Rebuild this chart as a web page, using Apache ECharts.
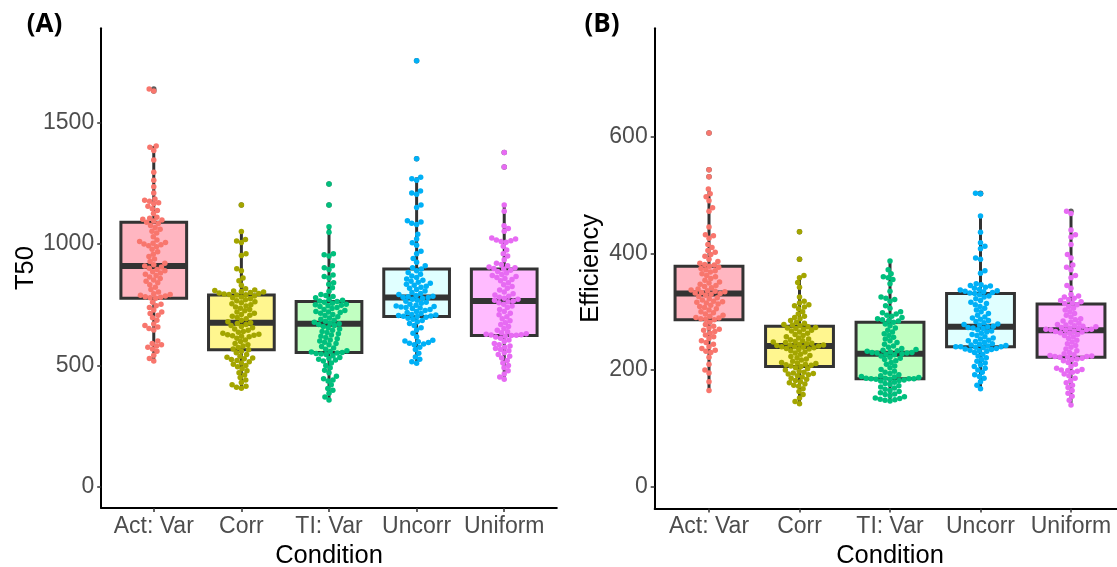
<!DOCTYPE html>
<html>
<head>
<meta charset="utf-8">
<script src="https://cdn.jsdelivr.net/npm/echarts@6/dist/echarts.min.js"></script>
<style>
html,body{margin:0;padding:0;background:#fff;}
#main{width:1117px;height:567px;}
</style>
</head>
<body>
<div id="main"></div>
<script>
// ---------------- DATA ----------------
const categories = ['Act: Var', 'Corr', 'TI: Var', 'Uncorr', 'Uniform'];
const t50Ticks = [0, 500, 1000, 1500];
const effTicks = [0, 200, 400, 600];

// Panel A: T50 (individual points)
const t50ActVar = [1638,1630,1403,1398,1385,1345,1295,1262,1235,1210,1185,1180,1176,1170,1165,1155,1145,1138,1125,1110,1106,1102,1098,1094,1089,
  1084,1076,1068,1060,1052,1045,1030,1016,1010,1006,1003,1000,997,993,988,978,968,958,948,938,928,920,914,909,
  905,900,895,890,885,880,875,870,864,858,852,846,840,832,822,812,802,795,792,789,786,783,780,778,776,
  760,752,746,738,728,720,714,706,696,686,670,664,658,652,646,600,590,585,580,575,568,558,542,528,518];
const t50Corr = [1160,1051,1018,1012,1006,960,952,898,890,860,848,830,815,810,808,806,804,802,800,798,796,794,792,791,790,
  786,782,778,774,770,766,762,758,754,750,745,740,735,730,725,720,715,710,706,702,697,692,686,680,676,
  672,668,664,660,655,650,645,640,636,632,628,626,624,622,620,618,612,605,598,590,585,580,574,568,564,
  558,552,545,538,534,530,527,524,520,515,510,505,500,494,486,478,470,460,450,440,430,420,414,410,406];
const t50TIVar = [1247,1160,1071,1048,960,955,950,910,902,895,872,866,860,840,834,820,805,792,788,784,778,772,768,765,763,
  760,756,752,750,748,746,742,738,734,730,726,722,720,718,715,710,705,700,695,690,686,682,678,674,671,
  668,664,660,655,650,645,640,635,630,625,620,615,610,605,600,595,590,585,578,572,566,560,557,555,553,
  551,549,547,545,540,532,528,525,522,518,510,500,490,480,470,455,445,440,436,420,405,398,385,370,358];
const t50Uncorr = [1754,1351,1274,1268,1262,1218,1210,1205,1160,1150,1095,1090,1085,1080,1040,1020,1005,995,970,960,940,925,910,902,897,
  890,882,875,868,862,856,850,846,842,838,834,830,826,822,818,812,806,800,796,792,788,785,783,781,779,
  776,772,768,764,760,756,752,748,745,742,740,738,736,734,730,726,722,718,714,710,707,705,703,702,701,
  698,694,690,685,680,672,664,655,646,632,618,604,600,597,594,591,588,585,575,565,550,535,525,515,509];
const t50Uniform = [1376,1317,1160,1135,1075,1064,1052,1024,1020,1016,1013,1010,1007,990,975,960,950,935,920,915,910,905,902,899,897,
  892,886,880,874,870,866,862,858,854,848,840,832,825,818,810,802,795,790,785,780,776,772,768,765,
  762,758,752,745,738,730,722,715,708,700,692,684,676,668,660,652,645,638,634,630,628,626,625,624,623,
  620,617,612,605,598,590,585,580,575,570,565,560,552,545,538,530,520,510,500,490,478,465,452,443];

// Panel A: box statistics (lower whisker, Q1, median, Q3, upper whisker) and outliers
const t50Low    = [518, 406, 358, 509, 443];
const t50Q1     = [776, 564, 553, 701, 623];
const t50Median = [909, 676, 671, 779, 765];
const t50Q3     = [1089, 790, 763, 897, 897];
const t50High   = [1403, 1051, 1071, 1274, 1160];
const t50Outliers = [[1630, 1638], [1160], [1160, 1247], [1351, 1754], [1317, 1376]];

// Panel B: Efficiency (individual points)
const effActVar = [606,543,531,510,502,497,490,478,472,445,432,430,426,415,410,405,402,398,395,390,386,383,381,380,378,
  376,374,372,370,368,365,362,360,357,354,351,349,347,345,343,341,339,337,336,335,334,333,332,331,330,
  328,326,324,322,320,318,317,316,315,313,311,309,307,305,303,300,298,296,294,292,290,289,288,287,286,
  282,278,275,272,270,268,266,263,260,257,254,250,247,244,240,237,234,232,230,222,210,200,195,180,165];
const effCorr = [437,390,362,358,350,342,325,318,315,312,310,308,305,300,296,292,290,288,285,282,280,278,277,276,274,
  273,272,271,270,268,267,265,263,261,259,257,255,253,252,250,249,248,247,246,245,244,243,243,242,241,
  240,240,239,238,237,236,235,233,231,229,227,225,223,221,219,217,215,213,212,211,210,209,208,207,206,
  204,202,200,198,196,195,194,193,192,190,188,186,184,182,180,178,176,174,172,168,163,158,152,146,142];
const effTIVar = [387,372,365,360,358,355,348,335,325,323,321,318,310,306,300,298,296,294,292,290,288,286,285,284,282,
  279,276,272,268,265,262,259,256,253,250,247,244,241,239,237,235,234,233,232,231,230,230,229,229,228,
  227,226,224,222,220,218,216,213,210,207,204,201,198,196,194,192,190,189,188,187,186,186,185,185,185,
  184,184,183,182,181,179,177,175,173,171,169,167,165,163,161,159,158,156,154,152,151,150,149,148,147];
const effUncorr = [503,502,464,436,418,412,408,392,390,370,366,348,346,345,344,342,340,338,337,336,335,334,333,332,331,
  329,327,325,322,319,316,314,312,309,306,303,300,297,294,291,289,287,285,283,281,279,278,277,275,274,
  273,272,271,269,267,265,263,261,259,257,255,253,251,250,249,247,245,244,243,242,241,240,240,240,239,
  238,237,236,235,234,233,232,230,227,224,221,218,215,212,209,206,203,200,196,192,189,186,180,174,168];
const effUniform = [472,468,440,432,428,415,398,392,380,376,372,362,358,345,340,330,327,325,323,321,319,317,315,314,312,
  309,306,303,300,297,294,291,288,286,284,282,280,278,277,276,275,274,273,272,271,270,270,269,269,268,
  267,266,265,264,263,261,259,257,254,251,248,245,242,239,236,233,230,228,226,225,224,223,223,222,222,
  220,219,218,216,213,210,206,203,201,200,199,198,196,193,190,186,182,178,174,170,165,160,155,148,140];

// Panel B: box statistics and outliers
const effLow    = [165, 142, 147, 168, 140];
const effQ1     = [286, 206, 185, 240, 222];
const effMedian = [331, 241, 228, 274, 268];
const effQ3     = [378, 275, 282, 331, 313];
const effHigh   = [510, 360, 387, 464, 468];
const effOutliers = [[531, 543, 606], [390, 437], [], [502, 503], [472]];

// ---------------- STYLE ----------------
const boxFills = ['#FFB6C1', '#FFF68F', '#C1FFC1', '#E0FFFF', '#FFBBFF'];
const pointColors = ['#F8766D', '#A3A500', '#00BF7D', '#00B0F6', '#E76BF3'];
const FONT = '"Liberation Sans", Arial, sans-serif';
const POINT_SIZE = 5.5;
const SWARM_GAP = 5;

const panels = [
  { groups: [t50ActVar, t50Corr, t50TIVar, t50Uncorr, t50Uniform],
    low: t50Low, q1: t50Q1, med: t50Median, q3: t50Q3, high: t50High, outliers: t50Outliers },
  { groups: [effActVar, effCorr, effTIVar, effUncorr, effUniform],
    low: effLow, q1: effQ1, med: effMedian, q3: effQ3, high: effHigh, outliers: effOutliers }
];

const chart = echarts.init(document.getElementById('main'), null, { renderer: 'canvas' });

function xAxis(gi) {
  return {
    type: 'value', gridIndex: gi, min: -0.6, max: 4.6,
    name: 'Condition', nameLocation: 'middle', nameGap: 31,
    nameTextStyle: { fontFamily: FONT, fontSize: 25.5, color: '#000' },
    axisLine: { show: true, onZero: false, lineStyle: { color: '#000', width: 2 } },
    axisTick: { show: true, customValues: [0, 1, 2, 3, 4], length: 4, lineStyle: { color: '#333', width: 1.5 } },
    axisLabel: { customValues: [0, 1, 2, 3, 4], margin: 7, fontFamily: FONT, fontSize: 23, color: '#4D4D4D',
      formatter: v => categories[Math.round(v)] },
    splitLine: { show: false }
  };
}
function yAxis(gi, name, min, max, ticks, gap) {
  return {
    type: 'value', gridIndex: gi, min: min, max: max,
    name: name, nameLocation: 'middle', nameRotate: 90, nameGap: gap,
    nameTextStyle: { fontFamily: FONT, fontSize: 25.5, color: '#000' },
    axisLine: { show: true, onZero: false, lineStyle: { color: '#000', width: 2 } },
    axisTick: { show: true, customValues: ticks, length: 4, lineStyle: { color: '#333', width: 1.5 } },
    axisLabel: { customValues: ticks, margin: 7, fontFamily: FONT, fontSize: 23, color: '#4D4D4D',
      formatter: v => String(Math.round(v)) },
    splitLine: { show: false }
  };
}

function boxSeries(gi) {
  const p = panels[gi];
  const data = categories.map((c, i) => [i, p.low[i], p.q1[i], p.med[i], p.q3[i], p.high[i]]);
  return {
    type: 'custom', xAxisIndex: gi, yAxisIndex: gi, z: 2,
    dimensions: ['x', 'low', 'q1', 'med', 'q3', 'high'],
    encode: { x: 0, y: [1, 2, 3, 4, 5] },
    data: data,
    renderItem: function (params, api) {
      const c = api.value(0);
      const pLow = api.coord([c, api.value(1)]);
      const pQ1 = api.coord([c, api.value(2)]);
      const pMed = api.coord([c, api.value(3)]);
      const pQ3 = api.coord([c, api.value(4)]);
      const pHigh = api.coord([c, api.value(5)]);
      const half = api.size([0.75, 0])[0] / 2;
      const x = pMed[0];
      const stroke = '#333333';
      return {
        type: 'group',
        children: [
          { type: 'line', shape: { x1: x, y1: pHigh[1], x2: x, y2: pQ3[1] }, style: { stroke: stroke, lineWidth: 3 } },
          { type: 'line', shape: { x1: x, y1: pQ1[1], x2: x, y2: pLow[1] }, style: { stroke: stroke, lineWidth: 3 } },
          { type: 'rect', shape: { x: x - half, y: pQ3[1], width: 2 * half, height: pQ1[1] - pQ3[1] },
            style: { fill: boxFills[c], stroke: stroke, lineWidth: 3 } },
          { type: 'line', shape: { x1: x - half, y1: pMed[1], x2: x + half, y2: pMed[1] },
            style: { stroke: stroke, lineWidth: 6 } }
        ]
      };
    }
  };
}

function outlierSeries(gi) {
  const p = panels[gi];
  const data = [];
  p.outliers.forEach((arr, c) => arr.forEach(v => data.push([c, v])));
  return {
    type: 'scatter', xAxisIndex: gi, yAxisIndex: gi, z: 3, silent: true,
    symbol: 'circle', symbolSize: POINT_SIZE, itemStyle: { color: '#333333' }, data: data
  };
}

const baseOption = {
  animation: false,
  backgroundColor: '#ffffff',
  textStyle: { fontFamily: FONT },
  grid: [
    { left: 101.2, top: 28.2, width: 455.6, height: 479.8, containLabel: false, outerBoundsMode: 'none' },
    { left: 654.7, top: 28.2, width: 470.6, height: 480.3, containLabel: false, outerBoundsMode: 'none' }
  ],
  xAxis: [xAxis(0), xAxis(1)],
  yAxis: [yAxis(0, 'T50', -87, 1888, t50Ticks, 57), yAxis(1, 'Efficiency', -37.4, 785.8, effTicks, 51)],
  graphic: [
    { type: 'text', x: 44.5, y: 25, style: { text: '(A)', font: 'bold 26px "Open Sans", "Liberation Sans", sans-serif', fill: '#000', align: 'center', verticalAlign: 'middle' } },
    { type: 'text', x: 602, y: 25, style: { text: '(B)', font: 'bold 26px "Open Sans", "Liberation Sans", sans-serif', fill: '#000', align: 'center', verticalAlign: 'middle' } }
  ],
  series: [boxSeries(0), boxSeries(1), outlierSeries(0), outlierSeries(1)]
};
chart.setOption(baseOption);

// beeswarm layout (pixel space), deterministic
function swarmOffsets(vals, pxPerUnit, d) {
  const order = vals.map((v, i) => i).sort((a, b) => vals[a] - vals[b]);
  const placed = [];
  const out = new Array(vals.length).fill(0);
  let lastSign = 1;
  for (const i of order) {
    const y = vals[i] * pxPerUnit;
    const near = placed.filter(p => Math.abs(p.y - y) < d);
    const cands = [0];
    near.forEach(p => {
      const dx = Math.sqrt(d * d - (p.y - y) * (p.y - y));
      cands.push(p.x + dx, p.x - dx);
    });
    cands.sort((a, b) => (Math.abs(a) - Math.abs(b)) || (a * lastSign - b * lastSign));
    let chosen = 0;
    for (const c of cands) {
      if (near.every(p => (p.x - c) * (p.x - c) + (p.y - y) * (p.y - y) >= d * d - 1e-6)) { chosen = c; break; }
    }
    if (chosen !== 0) lastSign = Math.sign(chosen);
    placed.push({ x: chosen, y: y });
    out[i] = chosen;
  }
  return out;
}

const swarmSeries = [];
panels.forEach((p, gi) => {
  const p0 = chart.convertToPixel({ gridIndex: gi }, [0, 0]);
  const p1 = chart.convertToPixel({ gridIndex: gi }, [1, 100]);
  const pxPerCat = p1[0] - p0[0];
  const pxPerUnit = (p0[1] - p1[1]) / 100;
  p.groups.forEach((vals, c) => {
    const off = swarmOffsets(vals, pxPerUnit, SWARM_GAP);
    swarmSeries.push({
      type: 'scatter', xAxisIndex: gi, yAxisIndex: gi, z: 4, silent: true,
      symbol: 'circle', symbolSize: POINT_SIZE,
      itemStyle: { color: pointColors[c], opacity: 1 },
      data: vals.map((v, i) => [c + off[i] / pxPerCat, v])
    });
  });
});

chart.setOption({ series: baseOption.series.concat(swarmSeries) });
</script>
</body>
</html>
